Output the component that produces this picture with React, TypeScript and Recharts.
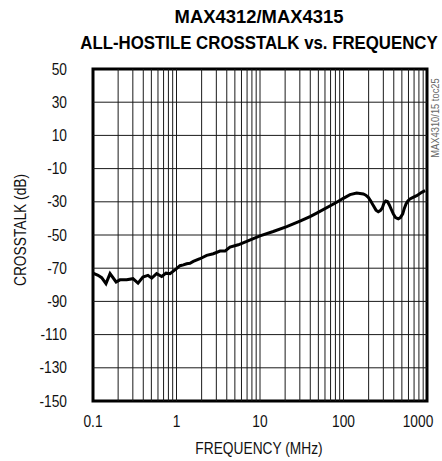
import React from "react";
import { Line, LineChart, ReferenceArea, ReferenceLine, XAxis, YAxis } from "recharts";

// frequency (MHz) and crosstalk (dB)
const freqMHz = [
  0.1, 0.103, 0.115, 0.127, 0.143, 0.16, 0.189, 0.21, 0.253, 0.301, 0.346, 0.396, 0.455, 0.505,
  0.578, 0.665, 0.749, 0.836, 1.0, 1.1, 1.21, 1.325, 1.45, 1.589, 1.91, 2.3, 2.76, 3.32, 3.81,
  4.37, 5.5, 6.93, 10, 14.4, 20.9, 30.1, 39.7, 47.8, 82.9, 99.6, 119.7, 143.8, 172.6, 185, 198,
  212, 227.5, 245, 261, 276, 291.6, 305, 320, 336, 354, 375, 395, 420, 453, 480, 512, 535, 561,
  590, 625, 690, 753, 865, 950,
];
const crosstalkDb = [
  -73.5, -73.3, -74.3, -75.7, -79.3, -73.3, -78.3, -77, -77, -76.3, -79, -75.3, -74.3, -76,
  -73.3, -75, -73, -73.3, -70.3, -68.5, -68, -67.3, -67, -65.9, -64.3, -62.3, -61.3, -59.7, -59.7,
  -57.3, -55.9, -53.9, -50.5, -47.9, -44.9, -41.7, -38.9, -36.8, -30.3, -27.9, -25.7, -24.7, -25.3,
  -26, -27.3, -29.5, -32.3, -35, -36, -35.3, -33.7, -30.8, -29.5, -29.8, -31.9, -34.8, -37.3,
  -39.5, -40.3, -39.5, -37.3, -34, -31.3, -29.5, -28.3, -27.2, -26.3, -24.3, -23.3,
];

const xTicks = [0.1, 1, 10, 100, 1000];
const yTicks = [-150, -130, -110, -90, -70, -50, -30, -10, 10, 30, 50];
const xGrid = [
  0.2, 0.3, 0.4, 0.5, 0.6, 0.7, 0.8, 0.9, 1, 2, 3, 4, 5, 6, 7, 8, 9, 10, 20, 30, 40, 50, 60, 70,
  80, 90, 100, 200, 300, 400, 500, 600, 700, 800, 900,
];
const yGrid = [-130, -110, -90, -70, -50, -30, -10, 10, 30];

const data = freqMHz.map((f, i) => ({ f, db: crosstalkDb[i] }));

// no narrow font installed, so squeeze Liberation Sans sideways
const font = "'Liberation Sans', Arial, sans-serif";
const squeeze = 0.86;

function FreqTick({ x, y, payload }: any) {
  const shift = payload.value === 1000 ? -9 : 0;
  return (
    <text
      transform={`translate(${x + shift},${y}) scale(${squeeze},1)`}
      dy="0.71em"
      textAnchor="middle"
      fontSize={16}
      fontFamily={font}
      fill="#111"
    >
      {String(payload.value)}
    </text>
  );
}

function DbTick({ x, y, payload }: any) {
  return (
    <text
      transform={`translate(${x},${y}) scale(${squeeze},1)`}
      dy="0.355em"
      textAnchor="end"
      fontSize={16}
      fontFamily={font}
      fill="#111"
    >
      {String(payload.value)}
    </text>
  );
}

export default function App() {
  return (
    <div style={{ position: "absolute", left: 0, top: 0, width: 442, height: 461, background: "#fff" }}>
      <LineChart
        width={442}
        height={461}
        data={data}
        margin={{ top: 69, right: 15, bottom: 30, left: 33 }}
      >
        <XAxis
          dataKey="f"
          type="number"
          scale="log"
          domain={[0.1, 1000]}
          ticks={xTicks}
          allowDataOverflow
          axisLine={false}
          tickLine={false}
          tickSize={0}
          tickMargin={15}
          height={30}
          interval={0}
          tick={<FreqTick />}
        />
        <YAxis
          type="number"
          domain={[-150, 50]}
          ticks={yTicks}
          interval={0}
          axisLine={false}
          tickLine={false}
          tickSize={0}
          tickMargin={26}
          width={60}
          tick={<DbTick />}
        />
        {xGrid.map((v) => (
          <ReferenceLine key={"x" + v} x={v} stroke="#1a1a1a" strokeWidth={1} />
        ))}
        {yGrid.map((v) => (
          <ReferenceLine key={"y" + v} y={v} stroke="#1a1a1a" strokeWidth={1} />
        ))}
        <ReferenceArea x1={0.1} x2={1000} y1={-150} y2={50} fill="none" stroke="#000" strokeWidth={3} />
        <Line
          dataKey="db"
          type="linear"
          stroke="#000"
          strokeWidth={3}
          dot={false}
          isAnimationActive={false}
        />
      </LineChart>
      <svg
        width={442}
        height={461}
        style={{ position: "absolute", left: 0, top: 0, pointerEvents: "none" }}
        fontFamily={font}
      >
        <text transform="translate(259,23) scale(0.97,1)" textAnchor="middle" fontSize={19} fontWeight="bold">
          MAX4312/MAX4315
        </text>
        <text transform="translate(259,49) scale(0.885,1)" textAnchor="middle" fontSize={19} fontWeight="bold">
          ALL-HOSTILE CROSSTALK vs. FREQUENCY
        </text>
        <text transform={`translate(259,454) scale(${squeeze},1)`} textAnchor="middle" fontSize={16} fill="#111">
          FREQUENCY (MHz)
        </text>
        <text
          transform={`translate(26,230) rotate(-90) scale(${squeeze},1)`}
          textAnchor="middle"
          fontSize={16}
          fill="#111"
        >
          CROSSTALK (dB)
        </text>
        <text
          transform="translate(439,118) rotate(-90) scale(0.85,1)"
          textAnchor="middle"
          fontSize={11}
          fill="#666"
        >
          MAX4310/15 toc25
        </text>
      </svg>
    </div>
  );
}
